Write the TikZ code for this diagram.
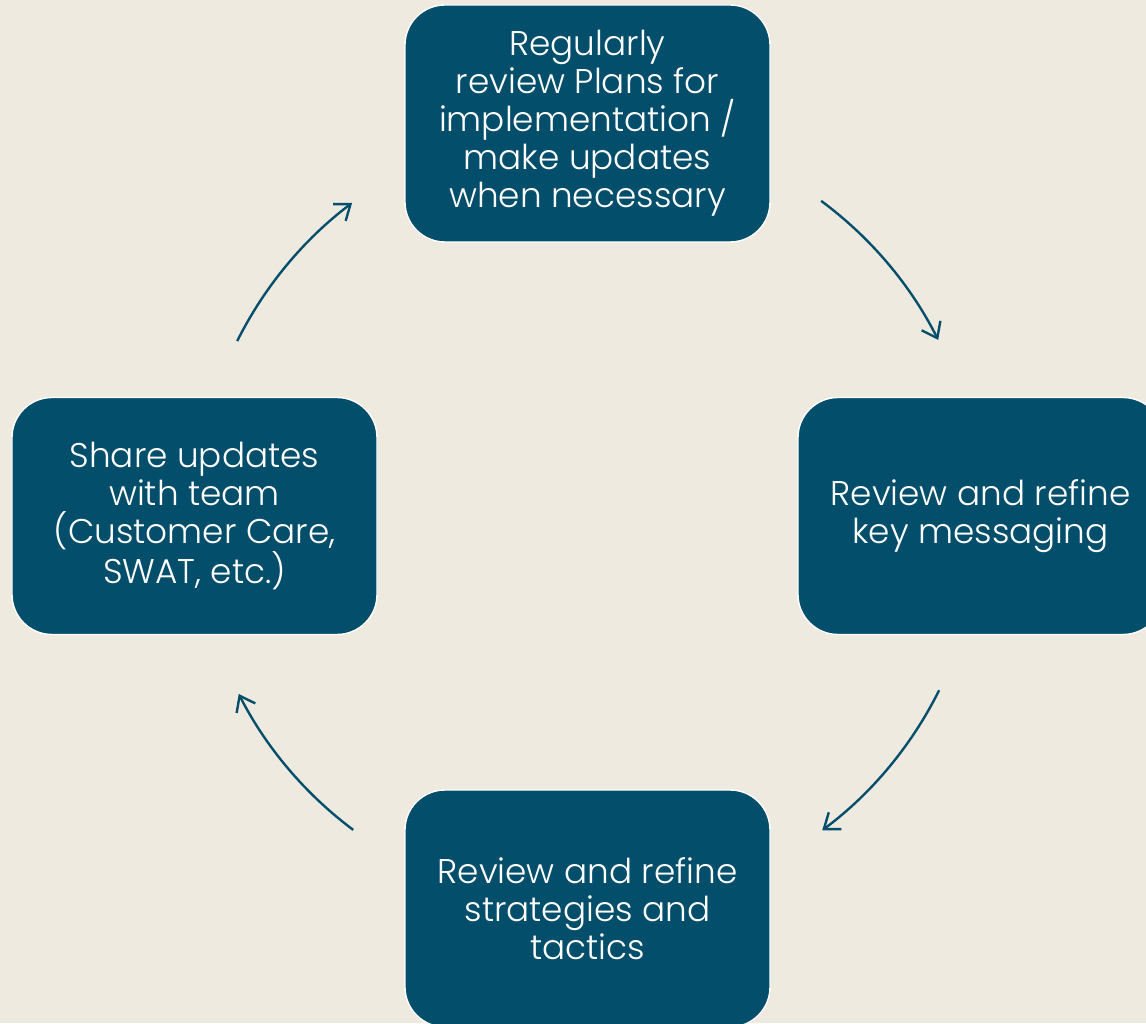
\documentclass[tikz,border=0pt]{standalone}
\usepackage{fontspec}
\setmainfont{Poppins Light}
\usepackage{xcolor}
\usetikzlibrary{arrows.meta}

\definecolor{cycleblue}{HTML}{024E6B}
\definecolor{paper}{HTML}{EFEAE0}

\tikzset{
	stage/.style={draw=white, line width=0.8pt, fill=cycleblue, rounded corners=0.8cm,
		minimum width=7.3cm, minimum height=4.74cm, text=white, align=center,
		font=\fontsize{19.5}{21.6}\selectfont},
	turn/.style={draw=cycleblue, line width=1.35pt, -{Straight Barb[length=0.28cm, width=0.42cm]}}
}

\begin{document}
\begin{tikzpicture}
			\def\R{7.84cm};
			
			\useasboundingbox (0,0) rectangle (22.92,20.46);
			\clip (0,0) rectangle (22.92,20.46);
			\fill [paper] (0,0) rectangle (22.92,20.46);
			
			\coordinate (hub) at (11.76,10.14);
			
			\begin{scope}
				\node [stage] (plans) at (11.75,17.99) {Regularly\\review Plans for\\implementation /\\make updates\\when necessary};
				\node [stage] (messaging) at (19.61,10.14) {Review and refine\\key messaging};
				\node [stage] (tactics) at (11.75,2.29) {Review and refine\\strategies and\\tactics};
				\node [stage] (team) at (3.89,10.14) {Share updates\\with team\\(Customer Care,\\SWAT, etc.)};
			\end{scope}
			
			\begin{scope}[turn]
				\draw (hub) ++(53.5:\R) arc [start angle=53.5, end angle=26.7, radius=\R];
				\draw (hub) ++(-26.4:\R) arc [start angle=-26.4, end angle=-53.3, radius=\R];
				\draw (hub) ++(-126.8:\R) arc [start angle=-126.8, end angle=-153, radius=\R];
				\draw (hub) ++(153.5:\R) arc [start angle=153.5, end angle=127, radius=\R];
			\end{scope}
		\end{tikzpicture}
\end{document}
